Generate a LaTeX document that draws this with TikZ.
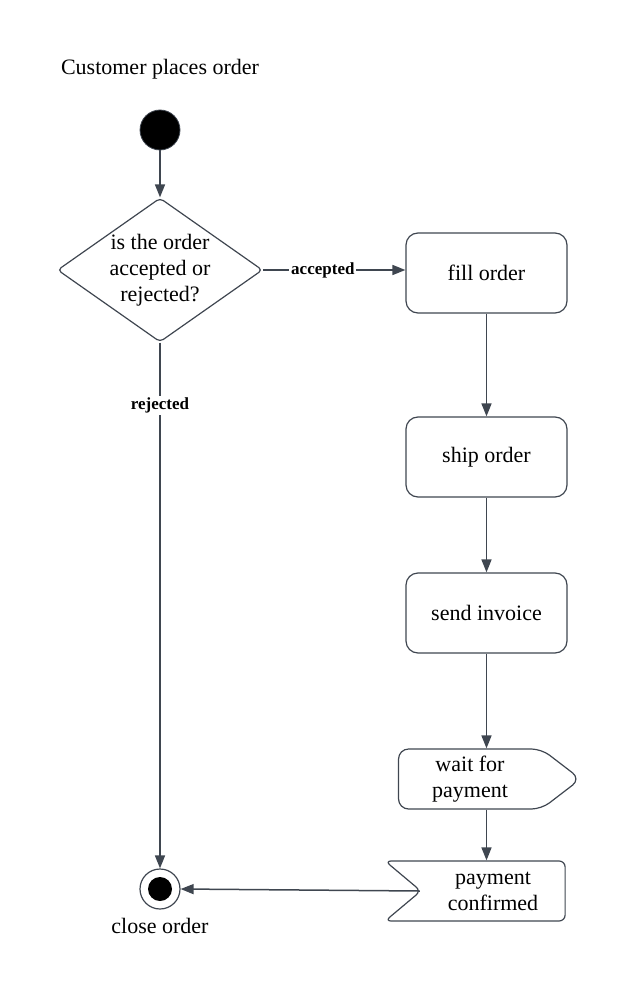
\documentclass[tikz,border=0pt]{standalone}
\usepackage{fontspec}
\setmainfont{Liberation Serif}
\usepackage{tikz}
\usetikzlibrary{arrows.meta,shapes,positioning,calc}
\usepackage{xcolor}
\definecolor{edgegray}{HTML}{3F4650}

\begin{document}
\begin{tikzpicture}[
    x=0.5pt, y=-0.5pt,
    font=\fontsize{11}{13}\selectfont,
    flow/.style={draw=edgegray, line width=0.75pt, -{Triangle[length=6.5pt,width=5pt]}},
    action/.style={rectangle, rounded corners=6pt, draw=edgegray, line width=0.6pt, minimum width=80.5pt, minimum height=40pt, align=center},
    decision/.style={diamond, draw=edgegray, line width=0.6pt, rounded corners=2pt, minimum width=102.5pt, minimum height=72pt, aspect=1.42, inner sep=0pt, align=center},
    sendsig/.style={signal, signal to=east, signal pointer angle=75, rounded corners=5pt, draw=edgegray, line width=0.6pt, minimum width=91pt, minimum height=30pt, align=center},
    recvsig/.style={signal, signal from=west, signal to=nowhere, signal pointer angle=80, rounded corners=3pt, draw=edgegray, line width=0.6pt, minimum width=90pt, minimum height=30pt, align=center},
    startnode/.style={circle, fill=black, draw=edgegray, minimum size=20pt, inner sep=0pt},
    endnode/.style={circle, draw=edgegray, line width=0.6pt, minimum size=20pt, inner sep=0pt,
        path picture={\fill[black] (path picture bounding box.center) circle (6pt);}},
    guard/.style={fill=white, font=\fontsize{8.5}{10}\selectfont\bfseries, inner sep=1pt}
]
\useasboundingbox (0,0) rectangle (617,999);

\node (title) at (160,69) {Customer places order};
\node[startnode] (start) at (160,130) {};
\node[decision] (check) at (160,270) {is the order\\accepted or\\rejected?};

\node[action] (fill) at (486.5,273) {fill order};
\node[action] (ship) at (486.5,457) {ship order};
\node[action] (invoice) at (486.5,613) {send invoice};
\node[sendsig] (wait) at (470,779) {wait for\\payment};
\node[recvsig] (paid) at (493,891) {payment\\confirmed};

\node[endnode] (close) at (160,889) {};
\node[below=1pt of close] (closelbl) {close order};

% control flow
\draw[flow] (start) -- (check);
\draw[flow] (check.east) -- node[guard, pos=0.42] {accepted} (check.east -| fill.west);
\draw[flow] (check.south) -- node[guard, pos=0.12] {rejected} (close.north);
\draw[flow] (fill) -- (ship);
\draw[flow] (ship) -- (invoice);
\draw[flow] (invoice.south) -- (invoice.south |- wait.north);
\draw[flow] (invoice.south |- wait.south) -- (invoice.south |- paid.north);
\draw[flow] (paid.west) -- (close.east);

\end{tikzpicture}
\end{document}
